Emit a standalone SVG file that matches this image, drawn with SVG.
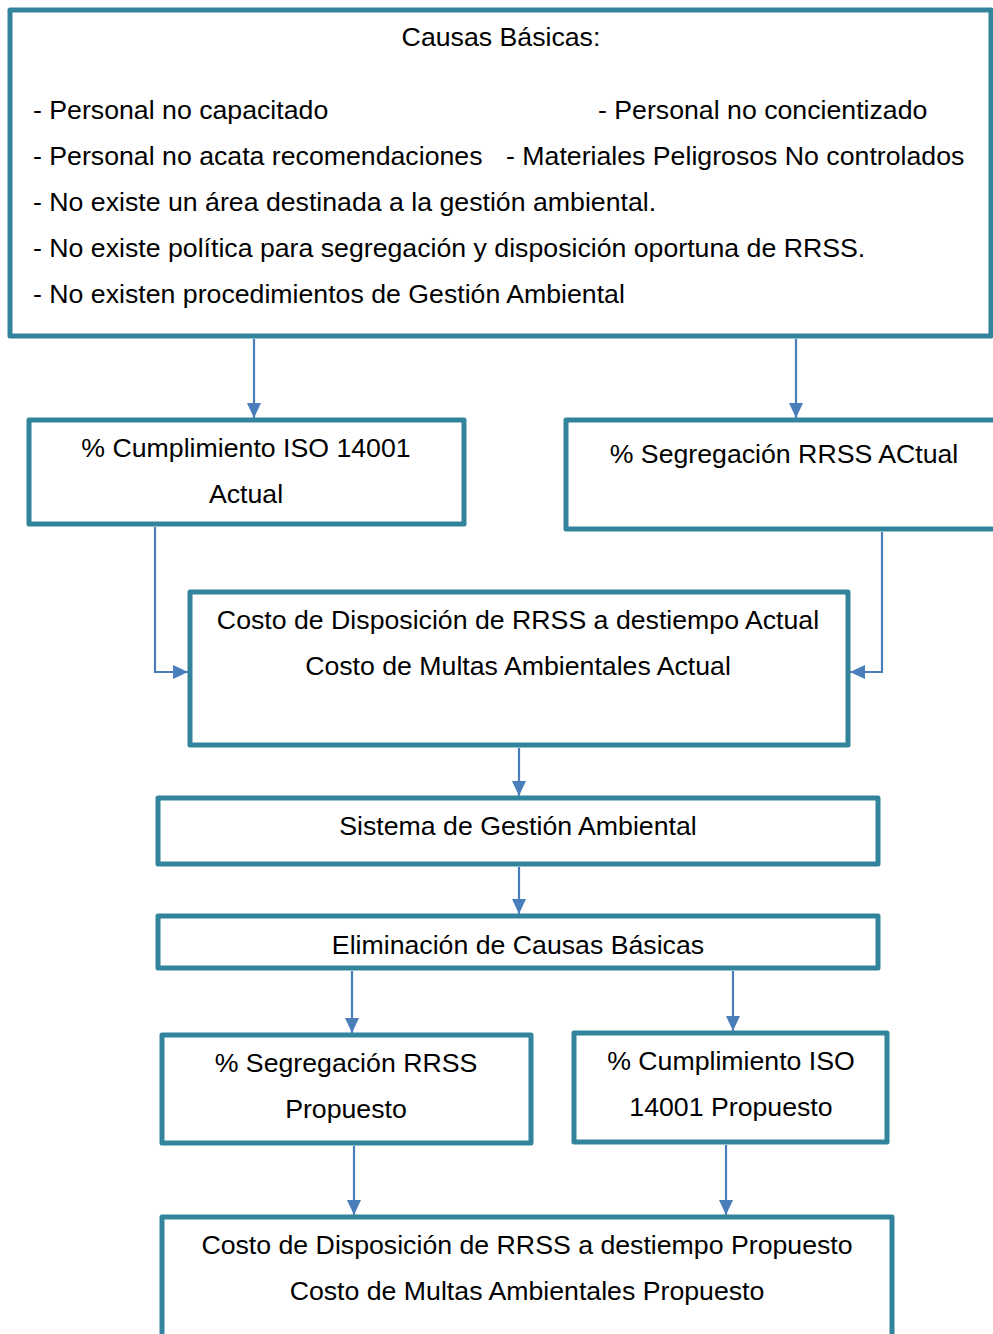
<svg xmlns="http://www.w3.org/2000/svg" width="993" height="1334" viewBox="0 0 993 1334">
<style>
.box{fill:#ffffff;stroke:#31849B;stroke-width:5;stroke-linejoin:round}
.t{font-family:"Liberation Sans",Arial,sans-serif;font-size:26.7px;fill:#000000}
.c{text-anchor:middle}
.con{fill:none;stroke:#4A7EBB;stroke-width:2.2;marker-end:url(#ah)}
</style>
<defs>
<marker id="ah" markerUnits="userSpaceOnUse" markerWidth="16" markerHeight="16" refX="15" refY="8" orient="auto">
<path d="M0,1 L15,8 L0,15 z" fill="#4A7EBB"/>
</marker>
</defs>
<rect width="993" height="1334" fill="#ffffff"/>
<g id="n-causas">
<rect class="box" x="10" y="10" width="981" height="326"/>
<text class="t c" x="501" y="46">Causas Básicas:</text>
<text class="t" x="33" y="119">- Personal no capacitado</text>
<text class="t" x="598" y="119">- Personal no concientizado</text>
<text class="t" x="33" y="165">- Personal no acata recomendaciones</text>
<text class="t" x="506" y="165">- Materiales Peligrosos No controlados</text>
<text class="t" x="33" y="211">- No existe un área destinada a la gestión ambiental.</text>
<text class="t" x="33" y="257">- No existe política para segregación y disposición oportuna de RRSS.</text>
<text class="t" x="33" y="303">- No existen procedimientos de Gestión Ambiental</text>
</g>
<g id="n-cumpl-actual">
<rect class="box" x="29" y="420" width="435" height="104"/>
<text class="t c" x="246" y="457">% Cumplimiento ISO 14001</text>
<text class="t c" x="246" y="503">Actual</text>
</g>
<g id="n-segr-actual">
<rect class="box" x="566" y="420" width="436" height="109"/>
<text class="t c" x="784" y="463">% Segregación RRSS ACtual</text>
</g>
<g id="n-costo-actual">
<rect class="box" x="190" y="592" width="658" height="153"/>
<text class="t c" x="518" y="629">Costo de Disposición de RRSS a destiempo Actual</text>
<text class="t c" x="518" y="675">Costo de Multas Ambientales Actual</text>
</g>
<g id="n-sga">
<rect class="box" x="158" y="798" width="720" height="66"/>
<text class="t c" x="518" y="835">Sistema de Gestión Ambiental</text>
</g>
<g id="n-elim">
<rect class="box" x="158" y="916" width="720" height="52"/>
<text class="t c" x="518" y="954">Eliminación de Causas Básicas</text>
</g>
<g id="n-segr-prop">
<rect class="box" x="162" y="1035" width="369" height="108"/>
<text class="t c" x="346" y="1072">% Segregación RRSS</text>
<text class="t c" x="346" y="1118">Propuesto</text>
</g>
<g id="n-cumpl-prop">
<rect class="box" x="574" y="1033" width="313" height="109"/>
<text class="t c" x="731" y="1070">% Cumplimiento ISO</text>
<text class="t c" x="731" y="1116">14001 Propuesto</text>
</g>
<g id="n-costo-prop">
<rect class="box" x="162" y="1217" width="730" height="140"/>
<text class="t c" x="527" y="1254">Costo de Disposición de RRSS a destiempo Propuesto</text>
<text class="t c" x="527" y="1300">Costo de Multas Ambientales Propuesto</text>
</g>
<g id="connectors">
<path class="con" d="M254,339 V418"/>
<path class="con" d="M796,339 V418"/>
<path class="con" d="M155,527 V672 H188"/>
<path class="con" d="M882,532 V672 H850"/>
<path class="con" d="M519,748 V796"/>
<path class="con" d="M519,867 V914"/>
<path class="con" d="M352,971 V1033"/>
<path class="con" d="M733,971 V1031"/>
<path class="con" d="M354,1146 V1215"/>
<path class="con" d="M726,1145 V1215"/>
</g>
</svg>
